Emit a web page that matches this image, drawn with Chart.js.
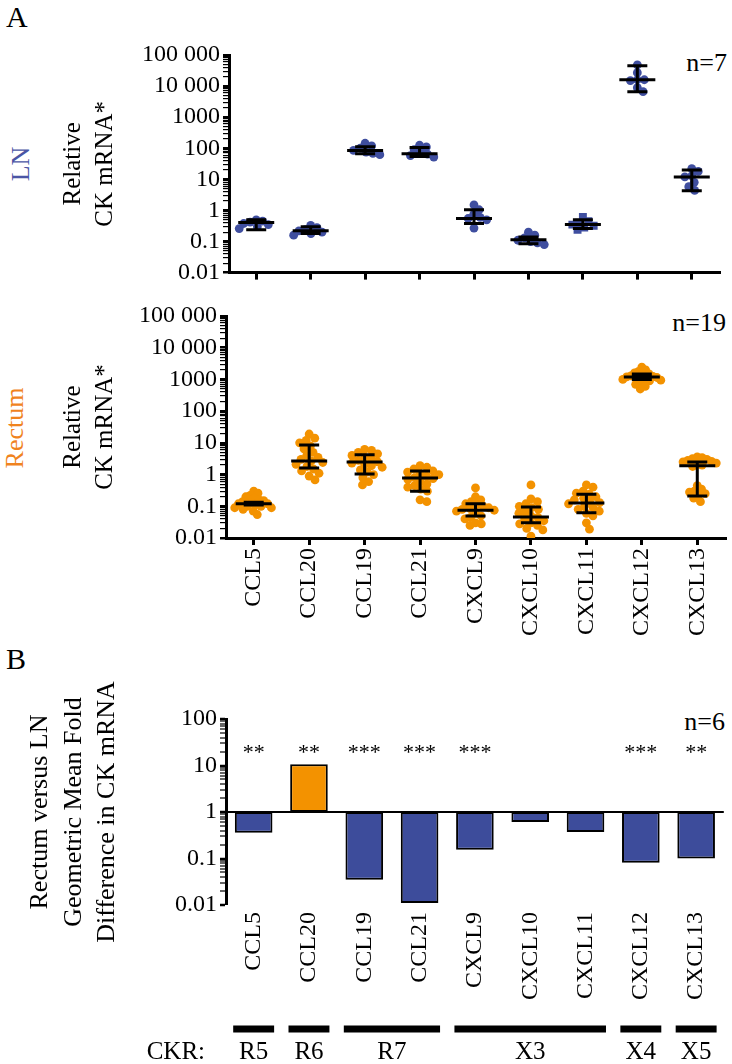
<!DOCTYPE html>
<html>
<head>
<meta charset="utf-8">
<script src="https://cdn.jsdelivr.net/npm/chart.js@4.4.1/dist/chart.umd.min.js"></script>
<style>
  body { margin: 0; background: #fff; width: 732px; height: 1064px; position: relative; overflow: hidden; font-family: "Liberation Serif", serif; }
  canvas { position: absolute; left: 0; }
  .txt { position: absolute; white-space: nowrap; line-height: 1; color: #000; }
  .rot { transform: translate(-50%, -50%) rotate(-90deg); }
</style>
</head>
<body>
<div class="txt" style="left:6px;top:2px;font-size:30px">A</div>
<div class="txt" style="left:6px;top:644px;font-size:30px">B</div>
<div class="txt rot" style="left:21px;top:164px;font-size:26px;color:#4A55A5">LN</div>
<div class="txt rot" style="left:15px;top:428px;font-size:26px;color:#F0831E">Rectum</div>
<div class="txt" style="right:5px;top:50px;font-size:26px">n=7</div>
<div class="txt" style="right:6px;top:310px;font-size:26px">n=19</div>
<div class="txt" style="right:7px;top:709px;font-size:26px">n=6</div>

<canvas id="lnChart" width="732" height="290" style="top:0"></canvas>
<canvas id="rectumChart" width="732" height="360" style="top:290px"></canvas>
<canvas id="foldChart" width="732" height="414" style="top:650px"></canvas>

<script>
// ---- data ----
const categories = ['CCL5', 'CCL20', 'CCL19', 'CCL21', 'CXCL9', 'CXCL10', 'CXCL11', 'CXCL12', 'CXCL13'];

const tickValuesA = [0.01, 0.1, 1, 10, 100, 1000, 10000, 100000];
const tickLabelsA = ['0.01', '0.1', '1', '10', '100', '1000', '10 000', '100 000'];
const tickValuesB = [0.01, 0.1, 1, 10, 100];
const tickLabelsB = ['0.01', '0.1', '1', '10', '100'];

// LN, n=7 per chemokine
const lnValues = [
  [0.5, 0.45, 0.42, 0.38, 0.35, 0.3, 0.26],
  [0.33, 0.28, 0.24, 0.22, 0.2, 0.18, 0.16],
  [145, 120, 100, 85, 75, 68, 62],
  [125, 110, 90, 75, 65, 58, 52],
  [1.5, 1.05, 0.75, 0.6, 0.55, 0.5, 0.27],
  [0.2, 0.16, 0.13, 0.11, 0.1, 0.09, 0.08],
  [0.62, 0.45, 0.4, 0.35, 0.32, 0.28, 0.24],
  [48000, 27000, 16000, 16000, 15000, 8900, 6600],
  [22, 18, 13, 12, 8, 5.8, 4.4]
];
const lnMean = [0.41, 0.22, 84, 67, 0.55, 0.115, 0.35, 16000, 12];
const lnHigh = [0.5, 0.3, 112, 105, 1.06, 0.14, 0.5, 45000, 20];
const lnLow = [0.24, 0.18, 67, 54, 0.38, 0.085, 0.26, 6600, 4.3];

// Rectum, n=19 per chemokine
const rectumValues = [
  [0.3, 0.26, 0.22, 0.2, 0.18, 0.16, 0.15, 0.14, 0.13, 0.12, 0.12, 0.11, 0.1, 0.1, 0.09, 0.09, 0.08, 0.07, 0.055],
  [19, 14, 12, 10, 8, 6.5, 5, 4, 3.5, 3, 2.7, 2.4, 2.1, 1.8, 1.5, 1.3, 1.1, 0.9, 0.68],
  [6.2, 5.8, 5, 4.5, 4, 3.5, 3.2, 2.8, 2.5, 2.3, 2.1, 1.9, 1.7, 1.4, 1.2, 1.0, 0.8, 0.6, 0.47],
  [1.9, 1.7, 1.5, 1.3, 1.2, 1.1, 1.0, 0.9, 0.8, 0.75, 0.7, 0.6, 0.5, 0.45, 0.4, 0.35, 0.3, 0.16, 0.14],
  [0.38, 0.2, 0.16, 0.14, 0.12, 0.11, 0.1, 0.09, 0.085, 0.08, 0.075, 0.07, 0.06, 0.05, 0.045, 0.04, 0.03, 0.028, 0.025],
  [0.47, 0.17, 0.14, 0.12, 0.1, 0.09, 0.08, 0.07, 0.06, 0.05, 0.045, 0.04, 0.035, 0.03, 0.028, 0.025, 0.02, 0.018, 0.0115],
  [0.47, 0.4, 0.3, 0.26, 0.24, 0.2, 0.18, 0.16, 0.14, 0.13, 0.12, 0.1, 0.09, 0.08, 0.07, 0.06, 0.05, 0.03, 0.019],
  [2450, 2000, 1800, 1600, 1500, 1400, 1300, 1250, 1200, 1150, 1100, 1050, 1000, 950, 900, 800, 700, 600, 500],
  [3.6, 3.4, 3.2, 3.0, 2.8, 2.6, 2.5, 2.3, 2.1, 2.0, 1.8, 0.45, 0.35, 0.3, 0.28, 0.25, 0.22, 0.18, 0.14]
];
const rectumMean = [0.12, 2.7, 2.5, 0.78, 0.075, 0.046, 0.126, 1200, 1.9];
const rectumHigh = [0.135, 8.6, 4.2, 1.3, 0.12, 0.095, 0.24, 1470, 2.5];
const rectumLow = [0.11, 1.6, 1.05, 0.3, 0.049, 0.03, 0.062, 1000, 0.21];

// panel B: rectum vs LN geometric mean fold difference, n=6
const foldChange = [0.36, 10.7, 0.035, 0.011, 0.154, 0.61, 0.37, 0.081, 0.1];
const foldStars = ['**', '**', '***', '***', '***', '', '', '***', '**'];
// chemokine receptor groups: [label, first category, last category]
const ckrGroups = [['R5', 0, 0], ['R6', 1, 1], ['R7', 2, 3], ['X3', 4, 6], ['X4', 7, 7], ['X5', 8, 8]];

// ---- styling ----
const FONT = '"Liberation Serif", serif';
const BLUE = '#3F4E9F';
const ORANGE = '#F39200';
Chart.defaults.font.family = FONT;
Chart.defaults.color = '#000';

function logTicks(min, max) {
  const ticks = [];
  const e0 = Math.round(Math.log10(min)), e1 = Math.round(Math.log10(max));
  for (let e = e0; e < e1; e++) {
    for (let k = 1; k < 10; k++) ticks.push({ value: k * Math.pow(10, e), major: k === 1 });
  }
  ticks.push({ value: max, major: true });
  return ticks;
}

function labelFor(v, vals, labels) {
  const k = vals.findIndex(t => Math.abs(Math.log10(t) - Math.log10(v)) < 1e-6);
  return k < 0 ? '' : labels[k];
}

function logAxis(min, max, vals, labels, width, title, titleSize, titlePad) {
  return {
    type: 'logarithmic',
    min: min, max: max,
    afterBuildTicks: s => { s.ticks = logTicks(min, max); },
    afterFit: s => { s.width = width; },
    border: { display: true, width: 3, color: '#000' },
    grid: {
      drawOnChartArea: false, drawTicks: true, tickLength: 6, color: '#000',
      lineWidth: c => (c.tick && c.tick.major ? 2.5 : 1.2)
    },
    ticks: {
      autoSkip: false, padding: 3, color: '#000', font: { size: 24 },
      callback: v => labelFor(v, vals, labels)
    },
    title: {
      display: true, text: title, color: '#000',
      font: { size: titleSize, lineHeight: 1.3 },
      padding: { top: titlePad, bottom: 0 }
    }
  };
}

// places dots side by side (pixel space), then squeezes the cloud to a max half width
function beeswarm(ys, diam, maxHalf) {
  const order = ys.map((y, i) => i).sort((a, b) => ys[a] - ys[b]);
  const placed = [];
  const out = [];
  order.forEach(i => {
    const y = ys[i];
    const cands = [0];
    placed.forEach(p => {
      const dy = Math.abs(p.y - y);
      if (dy < diam) {
        const dx = Math.sqrt(diam * diam - dy * dy);
        cands.push(p.x + dx, p.x - dx);
      }
    });
    cands.sort((a, b) => Math.abs(a) - Math.abs(b));
    const x = cands.find(c => placed.every(p => (p.x - c) ** 2 + (p.y - y) ** 2 >= diam * diam - 0.01));
    placed.push({ x: x, y: y });
    out[i] = x;
  });
  const widest = Math.max(...out.map(Math.abs));
  const k = widest > maxHalf ? maxHalf / widest : 1;
  return out.map(v => v * k);
}

const errorBars = {
  id: 'errorBars',
  afterDatasetsDraw(chart, args, opts) {
    if (!opts.mean) return;
    const { ctx, scales: { x, y } } = chart;
    ctx.save();
    ctx.strokeStyle = '#000';
    ctx.lineWidth = 3;
    opts.mean.forEach((m, i) => {
      const px = x.getPixelForValue(i);
      const ym = y.getPixelForValue(m);
      const yh = y.getPixelForValue(opts.high[i]);
      const yl = y.getPixelForValue(opts.low[i]);
      ctx.beginPath();
      ctx.moveTo(px, yh); ctx.lineTo(px, yl);
      ctx.moveTo(px - 10, yh); ctx.lineTo(px + 10, yh);
      ctx.moveTo(px - 10, yl); ctx.lineTo(px + 10, yl);
      ctx.moveTo(px - 18, ym); ctx.lineTo(px + 18, ym);
      ctx.stroke();
    });
    ctx.restore();
  }
};

function swarmChart(id, values, mean, high, low, color, area, showLabels, squareGroup) {
  const canvas = document.getElementById(id);
  const flat = [];
  values.forEach((vals, i) => vals.forEach(v => flat.push({ x: i, y: v })));
  const chart = new Chart(canvas, {
    type: 'scatter',
    data: {
      datasets: [{
        data: flat,
        backgroundColor: color,
        borderWidth: 0,
        pointStyle: c => (c.raw && Math.round(c.raw.x) === squareGroup ? 'rect' : 'circle'),
        pointRadius: c => (c.raw && Math.round(c.raw.x) === squareGroup ? 5.6 : 4.4)
      }]
    },
    options: {
      responsive: false,
      animation: false,
      events: [],
      layout: { padding: { top: area.top, right: area.right, bottom: 0, left: 0 } },
      plugins: {
        legend: { display: false },
        tooltip: { enabled: false },
        errorBars: { mean: mean, high: high, low: low }
      },
      scales: {
        x: {
          type: 'linear', min: -0.5, max: 8.5,
          afterBuildTicks: s => { s.ticks = categories.map((c, i) => ({ value: i })); },
          afterFit: s => { s.height = area.xHeight; },
          border: { display: true, width: 3, color: '#000' },
          grid: { drawOnChartArea: false, drawTicks: true, tickLength: 7, lineWidth: 3, color: '#000' },
          ticks: {
            autoSkip: false, minRotation: 90, maxRotation: 90, padding: 3,
            color: '#000', font: { size: 24 },
            callback: v => (showLabels ? categories[v] : '')
          }
        },
        y: logAxis(0.01, 100000, tickValuesA, tickLabelsA, area.left, ['Relative', 'CK mRNA*'], 25, 57)
      }
    },
    plugins: [errorBars]
  });

  // spread the dots horizontally once the scales are laid out
  const { x, y } = chart.scales;
  const unit = x.getPixelForValue(1) - x.getPixelForValue(0);
  const pts = [];
  values.forEach((vals, i) => {
    const offs = beeswarm(vals.map(v => y.getPixelForValue(v)), 7, area.swarm);
    vals.forEach((v, k) => pts.push({ x: i + offs[k] / unit, y: v }));
  });
  chart.data.datasets[0].data = pts;
  chart.update('none');
  return chart;
}

swarmChart('lnChart', lnValues, lnMean, lnHigh, lnLow, BLUE,
  { top: 55, right: 13, left: 229, xHeight: 17, swarm: 17 }, false, 6);
swarmChart('rectumChart', rectumValues, rectumMean, rectumHigh, rectumLow, ORANGE,
  { top: 26, right: 7, left: 226, xHeight: 112, swarm: 19 }, true, -1);

// ---- panel B ----
const foldAnnotations = {
  id: 'foldAnnotations',
  afterDraw(chart) {
    const { ctx, chartArea, scales: { x } } = chart;
    ctx.save();
    ctx.fillStyle = '#000';
    ctx.textAlign = 'center';
    ctx.textBaseline = 'middle';
    ctx.font = '22px ' + FONT;
    foldStars.forEach((s, i) => ctx.fillText(s, x.getPixelForValue(i), chartArea.top + 34));

    const half = 0.37 * (x.getPixelForValue(1) - x.getPixelForValue(0));
    const barY = chartArea.bottom + 124;
    const textY = chartArea.bottom + 147;
    ctx.font = '25px ' + FONT;
    ckrGroups.forEach(([name, a, b]) => {
      const x0 = x.getPixelForValue(a) - half;
      const x1 = x.getPixelForValue(b) + half;
      ctx.fillRect(x0, barY - 3.5, x1 - x0, 7);
      ctx.fillText(name, (x0 + x1) / 2, textY);
    });
    ctx.textAlign = 'right';
    ctx.fillText('CKR:', 205, textY);
    ctx.restore();
  }
};

new Chart(document.getElementById('foldChart'), {
  type: 'bar',
  data: {
    labels: categories,
    datasets: [{
      data: foldChange.map(v => [1, v]),
      backgroundColor: foldChange.map(v => (v > 1 ? ORANGE : '#3D4C9B')),
      borderColor: '#000',
      borderWidth: 2,
      borderSkipped: false,
      barPercentage: 0.68,
      categoryPercentage: 1
    }]
  },
  options: {
    responsive: false,
    animation: false,
    events: [],
    layout: { padding: { top: 69, right: 1, bottom: 0, left: 0 } },
    plugins: { legend: { display: false }, tooltip: { enabled: false } },
    scales: {
      x: {
        type: 'category',
        afterFit: s => { s.height = 159; },
        border: { display: false },
        grid: { display: false, drawTicks: false },
        ticks: { autoSkip: false, minRotation: 90, maxRotation: 90, padding: 7, color: '#000', font: { size: 24 } }
      },
      y: Object.assign(
        logAxis(0.01, 100, tickValuesB, tickLabelsB, 226,
          ['Rectum versus LN', 'Geometric Mean Fold', 'Difference in CK mRNA'], 26, 23),
        {
          grid: {
            drawOnChartArea: true, drawTicks: true, tickLength: 6,
            color: c => (c.tick && Math.abs(c.tick.value - 1) < 1e-9 ? '#000' : 'rgba(0,0,0,0)'),
            lineWidth: c => (c.tick && Math.abs(c.tick.value - 1) < 1e-9 ? 2 : 0),
            tickColor: '#000',
            tickWidth: c => (c.tick && c.tick.major ? 2.5 : 1.2)
          }
        })
    }
  },
  plugins: [foldAnnotations]
});
</script>
</body>
</html>
